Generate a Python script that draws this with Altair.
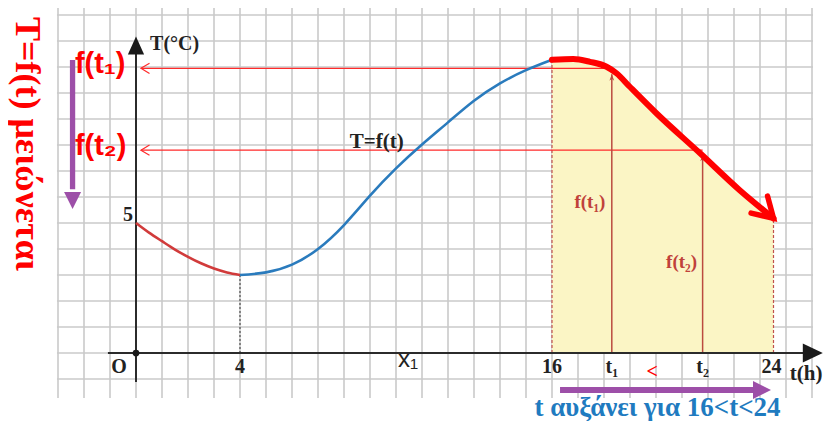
import altair as alt
import pandas as pd

# ---- values (t in h, T in °C) ----
RED_T = [0, 0.5, 1, 1.5, 2, 2.5, 3, 3.5, 4]
RED_V = [5.0, 4.63, 4.3, 3.98, 3.7, 3.45, 3.25, 3.1, 3.0]
BLUE_T = [4, 5, 6, 7, 8, 9, 10, 11, 12, 13, 14, 15, 16]
BLUE_V = [3.0, 3.1, 3.4, 4.0, 4.92, 6.05, 7.1, 8.02, 8.87, 9.7, 10.37, 10.88, 11.28]
DEC_T = [16, 16.77, 17.37, 17.97, 18.33, 18.81, 19.77, 21.35, 22.77, 24]
DEC_V = [11.28, 11.31, 11.2, 11.01, 10.76, 10.24, 9.22, 7.68, 6.27, 5.18]

T1, T2 = 18.16, 21.44
F_T1, F_T2 = 10.95, 7.8
T1_TOP, T2_TOP = 10.72, 7.62

TICK_POS = [-0.65, 4, 16, T1, T2, 23.93]
TICK_TXT = ["O", "4", "16", "t₁", "t₂", "24"]

GRID_X = list(range(-3, 27))
GRID_Y = list(range(-1, 14))

SERIF = "Liberation Serif"
SANS = "Liberation Sans"

XS = alt.Scale(domain=[0, 16, 24], range=[128, 544, 765.5], nice=False, zero=False)
GS = alt.Scale(domain=[0, 16], range=[128, 544], nice=False, zero=False)
YS = alt.Scale(domain=[0, 10], range=[345, 85], nice=False, zero=False)


def X(f):
    return alt.X(f, type="quantitative", scale=XS, axis=None)


def Y(f):
    return alt.Y(f, type="quantitative", scale=YS, axis=None)


# ---- grid (own uniform scale) ----
grid_v = alt.Chart(pd.DataFrame({"g": GRID_X, "a": -1.73, "b": 13.3})).mark_rule(
    color="#cacaca", strokeWidth=1.6
).encode(x=alt.X("g:Q", scale=GS, axis=None), y=Y("a"), y2="b:Q")
grid_h = alt.Chart(pd.DataFrame({"v": GRID_Y, "a": -3.04, "b": 26.04})).mark_rule(
    color="#cacaca", strokeWidth=1.6
).encode(y=Y("v"), x=alt.X("a:Q", scale=GS, axis=None), x2="b:Q")
grid = alt.layer(grid_v, grid_h)

dec = pd.DataFrame({"t": DEC_T, "v": DEC_V})

area = alt.Chart(dec.assign(z=0)).mark_area(color="#fbf5c5", interpolate="monotone").encode(
    x=X("t"), y=Y("v"), y2="z:Q"
)

edges = alt.Chart(pd.DataFrame({"t": [DEC_T[0], DEC_T[-1]], "v": [DEC_V[0], DEC_V[-1]], "z": 0})).mark_rule(
    color="#c0504d", strokeWidth=1.2, strokeDash=[3, 2]
).encode(x=X("t"), y=Y("z"), y2="v:Q")

hlines_df = pd.DataFrame({"a": [0.19, 0.19], "b": [T1, T2], "v": [F_T1, F_T2]})
hlines = alt.Chart(hlines_df).mark_rule(color="#ff2a2a", strokeWidth=1.2).encode(
    x=X("a"), x2="b:Q", y=Y("v")
)
hchev = alt.Chart(hlines_df).mark_point(
    shape="M 0.857 -0.515 L 0 0 L 0.857 0.515", filled=False, stroke="#ff2a2a",
    strokeWidth=1.2, size=400, opacity=1
).encode(x=X("a"), y=Y("v"))

vl_df = pd.DataFrame({"t": [T1, T2], "top": [T1_TOP, T2_TOP], "z": 0})
vlines = alt.Chart(vl_df).mark_rule(color="#bb4a40", strokeWidth=1.5).encode(
    x=X("t"), y=Y("z"), y2="top:Q"
)
vheads = alt.Chart(vl_df).mark_point(
    shape="M -0.6 1.6 L 0 0 L 0.6 1.6 L 0 1.1 Z", filled=True, color="#bb4a40", size=64, opacity=1
).encode(x=X("t"), y=Y("top"))

dash4 = alt.Chart(pd.DataFrame({"t": [RED_T[-1]], "v": [RED_V[-1]], "z": 0})).mark_rule(
    color="#333333", strokeWidth=1, strokeDash=[2, 2]
).encode(x=X("t"), y=Y("z"), y2="v:Q")

# ---- axes ----
xaxis = alt.Chart(pd.DataFrame({"a": [-1.08], "b": [25.4], "v": [0]})).mark_rule(
    color="#2b2b2b", strokeWidth=2
).encode(x=X("a"), x2="b:Q", y=Y("v"))
yaxis = alt.Chart(pd.DataFrame({"t": [0], "a": [-1.12], "b": [11.5]})).mark_rule(
    color="#2b2b2b", strokeWidth=2
).encode(x=X("t"), y=Y("a"), y2="b:Q")
xhead = alt.Chart(pd.DataFrame({"t": [25.78], "v": [0]})).mark_point(
    shape="M -2 -0.95 L 0 0 L -2 0.95 Z", filled=True, color="#1a1a1a", size=400, opacity=1
).encode(x=X("t"), y=Y("v"))
yhead = alt.Chart(pd.DataFrame({"t": [0], "v": [12.17]})).mark_point(
    shape="M -0.9 2 L 0 0 L 0.9 2 Z", filled=True, color="#1a1a1a", size=324, opacity=1
).encode(x=X("t"), y=Y("v"))
origin = alt.Chart(pd.DataFrame({"t": [0], "v": [0]})).mark_point(
    shape="circle", filled=True, color="#1a1a1a", size=45, opacity=1
).encode(x=X("t"), y=Y("v"))

# ---- curves ----
red = alt.Chart(pd.DataFrame({"t": RED_T, "v": RED_V})).mark_line(
    color="#d13b3b", strokeWidth=2.6, interpolate="natural"
).encode(x=X("t"), y=Y("v"))
blue = alt.Chart(pd.DataFrame({"t": BLUE_T, "v": BLUE_V})).mark_line(
    color="#2a7bbd", strokeWidth=2.6, interpolate="natural"
).encode(x=X("t"), y=Y("v"))
thick = alt.Chart(dec).mark_line(
    color="#ff0000", strokeWidth=6, interpolate="monotone", strokeCap="round"
).encode(x=X("t"), y=Y("v"))
chev = alt.Chart(pd.DataFrame({"t": [DEC_T[-1]], "v": [DEC_V[-1]]})).mark_point(
    shape="M -0.857 -0.515 L 0 0 L -0.857 0.515", filled=False, stroke="#ff0000",
    strokeWidth=5.5, size=2116, angle=44, opacity=1, strokeCap="round"
).encode(x=X("t"), y=Y("v"))

# ---- purple arrows ----
pv = alt.Chart(pd.DataFrame({"t": [-2.44], "a": [11.27], "b": [6.3]})).mark_rule(
    color="#9d4fa8", strokeWidth=5.3
).encode(x=X("t"), y=Y("a"), y2="b:Q")
pvh = alt.Chart(pd.DataFrame({"t": [-2.44], "v": [5.54]})).mark_point(
    shape="M -1 -2 L 1 -2 L 0 0 Z", filled=True, color="#9d4fa8", size=289, opacity=1
).encode(x=X("t"), y=Y("v"))
ph = alt.Chart(pd.DataFrame({"a": [16.29], "b": [23.3], "v": [-1.42]})).mark_rule(
    color="#9d4fa8", strokeWidth=6
).encode(x=X("a"), x2="b:Q", y=Y("v"))
phh = alt.Chart(pd.DataFrame({"t": [23.91], "v": [-1.42]})).mark_point(
    shape="M -2 -1 L 0 0 L -2 1 Z", filled=True, color="#9d4fa8", size=324, opacity=1
).encode(x=X("t"), y=Y("v"))


def label(t, v, s, **kw):
    return alt.Chart(pd.DataFrame({"t": t, "v": v, "s": s})).mark_text(**kw).encode(
        x=X("t"), y=Y("v"), text="s:N"
    )


ticks = label(TICK_POS, [-0.55] * len(TICK_POS), TICK_TXT, font=SERIF, fontWeight="bold",
              fontSize=20, color="#222222", baseline="middle")
five = label([-0.12], [5.3], ["5"], font=SERIF, fontWeight="bold", fontSize=20,
             color="#222222", align="right", baseline="middle")
tc = label([0.54], [11.9], ["T(°C)"], font=SERIF, fontWeight="bold", fontSize=20,
           color="#222222", align="left", baseline="middle")
th = label([25.18], [-0.8], ["t(h)"], font=SERIF, fontWeight="bold", fontSize=21,
           color="#222222", baseline="middle")
tf = label([9.26], [8.13], ["T=f(t)"], font=SERIF, fontWeight="bold", fontSize=21,
           color="#222222", baseline="middle")
x1 = label([10.46], [-0.27], ["x₁"], font=SANS, fontSize=24, color="#222222", baseline="middle")
lt = label([19.62], [-0.73], ["<"], font=SERIF, fontWeight="bold", fontSize=20,
           color="#ff0000", baseline="middle")
bigf = label([-2.35, -2.35], [10.76, 7.62], ["f(t₁)", "f(t₂)"], font=SANS, fontWeight="bold",
             fontSize=29, color="#ff0000", align="left", baseline="alphabetic")
inner = label([17.37, 20.68], [5.56, 3.26], ["f(t₁)", "f(t₂)"], font=SERIF, fontWeight="bold",
              fontSize=19, color="#c0413a", baseline="alphabetic")
bluet = label([19.81], [-2.1], ["t αυξάνει για 16<t<24"], font=SERIF, fontWeight="bold",
              fontSize=27, color="#1f7bc0", baseline="middle")
rot = label([-4.19], [8.04], ["T=f(t) μειώνεται"], font=SERIF, fontWeight="bold",
            fontSize=36, color="#ff0000", baseline="middle", angle=90)

main = alt.layer(
    area, edges, hlines, hchev, vlines, vheads, dash4, xaxis, yaxis, xhead, yhead, origin,
    red, blue, thick, chev, pv, pvh, ph, phh,
    ticks, five, tc, th, tf, x1, lt, bigf, inner, bluet, rot
)

chart = alt.layer(grid, main).resolve_scale(x="independent").properties(
    width=816, height=413, autosize=alt.AutoSizeParams(type="none"), padding=0,
    background="white"
).configure_view(stroke=None)

chart.save("out.html", embed_options={"renderer": "svg", "actions": False})
